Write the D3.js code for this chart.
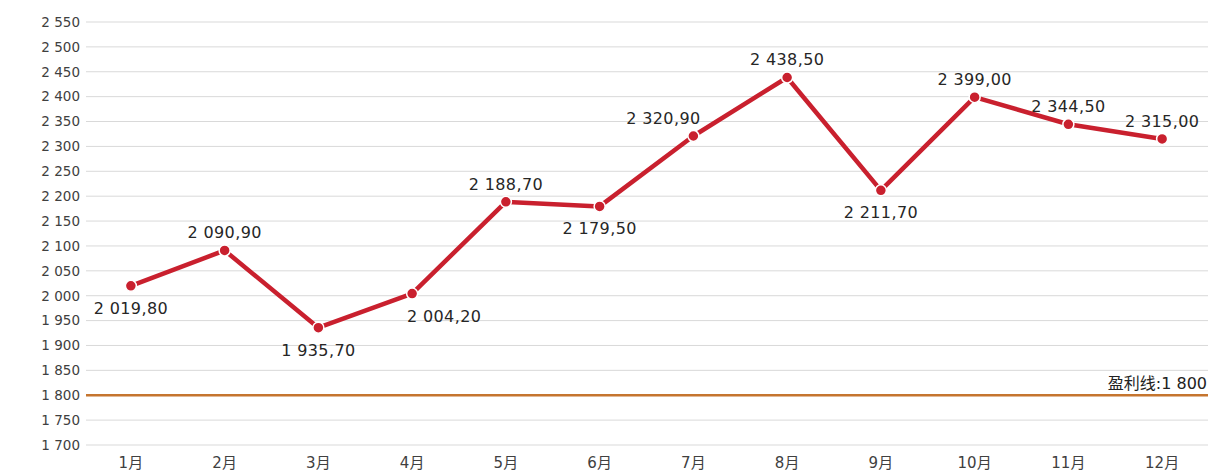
<!DOCTYPE html>
<html><head><meta charset="utf-8">
<script src="https://cdn.jsdelivr.net/npm/d3@7"></script>
<style>body{margin:0;background:#fff}svg{display:block}</style>
</head><body>
<svg id="c" width="1208" height="474"></svg>
<script>
const months = ["1月","2月","3月","4月","5月","6月","7月","8月","9月","10月","11月","12月"];
const values = [2019.8,2090.9,1935.7,2004.2,2188.7,2179.5,2320.9,2438.5,2211.7,2399.0,2344.5,2315.0];
const labelPos = ["below","above","below","below","above","below","above","above","below","above","above","above"];
const labelShift = [0,0,0,32,0,0,-30,0,0,0,0,0];
const yTicks = [1700,1750,1800,1850,1900,1950,2000,2050,2100,2150,2200,2250,2300,2350,2400,2450,2500,2550];
const profitLine = 1800;
const profitLabel = "盈利线:";

const loc = d3.formatLocale({decimal:",", thousands:" ", grouping:[3], currency:["",""]});
const fmtTick = loc.format(",.0f");
const fmtVal = loc.format(",.2f");

const svg = d3.select("#c");
const font = "'DejaVu Sans','Noto Sans CJK SC',sans-serif";
const x = d3.scaleBand().domain(months).range([84,1209]);
const y = d3.scaleLinear().domain([1700,2550]).range([445,22]);

const grid = svg.append("g");
grid.selectAll("line").data(yTicks).join("line")
  .attr("x1",86).attr("x2",1208)
  .attr("y1",d=>y(d)).attr("y2",d=>y(d))
  .attr("stroke","#d9d9d9").attr("stroke-width",1);

const yAxis = d3.axisLeft(y).tickValues(yTicks).tickFormat(fmtTick).tickSize(0).tickPadding(6);
const ga = svg.append("g").attr("transform","translate(86,0)").call(yAxis);
ga.select(".domain").remove();
ga.selectAll("text").attr("font-family",font).attr("font-size",13.5).attr("fill","#404040");

const xAxis = d3.axisBottom(x).tickSize(0).tickPadding(12);
const gx = svg.append("g").attr("transform","translate(0,445)").call(xAxis);
gx.select(".domain").remove();
gx.selectAll("text").attr("font-family",font).attr("font-size",15).attr("fill","#404040");

svg.append("line").attr("x1",86).attr("x2",1208)
  .attr("y1",y(profitLine)).attr("y2",y(profitLine))
  .attr("stroke","#c5752f").attr("stroke-width",2.5);
svg.append("text").attr("x",1207).attr("y",y(profitLine)-6)
  .attr("text-anchor","end").attr("font-family",font).attr("font-size",16).attr("fill","#222")
  .text(profitLabel + fmtTick(profitLine));

const cx = d => x(d) + x.bandwidth()/2;
const line = d3.line().x((d,i)=>cx(months[i])).y(d=>y(d));
svg.append("path").datum(values).attr("d",line)
  .attr("fill","none").attr("stroke","#c9202e").attr("stroke-width",4.5).attr("stroke-linejoin","round");
svg.append("g").selectAll("circle").data(values).join("circle")
  .attr("cx",(d,i)=>cx(months[i])).attr("cy",d=>y(d)).attr("r",5.5)
  .attr("fill","#c9202e").attr("stroke","#fff").attr("stroke-width",1.5);
svg.append("g").selectAll("text").data(values).join("text")
  .attr("x",(d,i)=>cx(months[i]) + labelShift[i])
  .attr("y",(d,i)=>labelPos[i]==="above" ? y(d)-12 : y(d)+28)
  .attr("text-anchor","middle").attr("font-family",font).attr("font-size",16)
  .attr("letter-spacing",0.4).attr("fill","#262626")
  .text(d=>fmtVal(d));
</script>
</body></html>
